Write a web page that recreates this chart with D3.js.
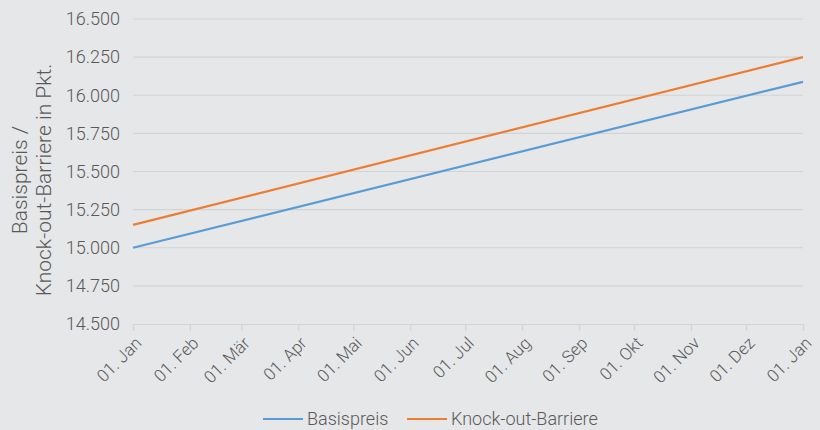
<!DOCTYPE html>
<html><head><meta charset="utf-8">
<script src="https://cdn.jsdelivr.net/npm/d3@7"></script>
<style>
html,body{margin:0;padding:0;background:#e6e7e8;}
svg{display:block;font-family:Roboto,"Liberation Sans",sans-serif;font-weight:300;}
</style></head><body>
<svg id="c" width="820" height="430"></svg>
<script>
const dates = ["2023-01-01","2024-01-01"];
const basispreis = [15000, 16088];
const knockout = [15150, 16250];
const yTicks = [14500,14750,15000,15250,15500,15750,16000,16250,16500];
const monthLabels = ["Jan","Feb","Mär","Apr","Mai","Jun","Jul","Aug","Sep","Okt","Nov","Dez","Jan"];
const seriesNames = ["Basispreis","Knock-out-Barriere"];
const colors = ["#5b9bd5","#ed7d31"];

(function(){
const svg = d3.select("#c");
const parse = d3.timeParse("%Y-%m-%d");
const mLeft=133, mRight=803, mTop=19, mBottom=324;
const x = d3.scaleTime().domain([parse(dates[0]), parse(dates[1])]).range([mLeft,mRight]);
const y = d3.scaleLinear().domain([14500,16500]).range([mBottom,mTop]);
const fmtY = v => { const s = String(v); return s.slice(0,2)+"."+s.slice(2); };

svg.append("rect").attr("width",820).attr("height",430).attr("fill","#e6e7e8");

// grid
svg.append("g").selectAll("line").data(yTicks.slice(1)).join("line")
  .attr("x1",mLeft).attr("x2",mRight).attr("y1",d=>y(d)).attr("y2",d=>y(d))
  .attr("stroke","#d2d3d5").attr("stroke-width",1.2);

// y labels
const yAxis = d3.axisLeft(y).tickValues(yTicks).tickFormat(fmtY).tickSize(0).tickPadding(13);
const gy = svg.append("g").attr("transform",`translate(${mLeft},0)`).call(yAxis);
gy.select(".domain").remove();
gy.selectAll("text").attr("fill","#595959").style("font-size","18px").style("font-family","Roboto").style("font-weight","300");

// x axis
const monthTicks = d3.timeMonth.range(parse(dates[0]), d3.timeDay.offset(parse(dates[1]),1));
const xAxis = d3.axisBottom(x).tickValues(monthTicks).tickSize(7)
  .tickFormat((d,i)=>"01. "+monthLabels[i]);
const gx = svg.append("g").attr("transform",`translate(0,${mBottom})`).call(xAxis);
gx.select(".domain").attr("stroke","#d2d3d5").attr("stroke-width",1.2);
gx.selectAll(".tick line").attr("stroke","#d2d3d5").attr("stroke-width",1.2);
gx.selectAll("text").attr("fill","#595959").style("font-size","17px").style("font-family","Roboto").style("font-weight","300")
  .attr("text-anchor","end").attr("y",0).attr("dy","0.35em")
  .attr("transform","translate(5,16) rotate(-45)");

// lines
const line = d3.line().x(d=>x(d.date)).y(d=>y(d.v));
[basispreis, knockout].forEach((arr,k)=>{
  const data = arr.map((v,i)=>({date:parse(dates[i]), v}));
  svg.append("path").datum(data).attr("d",line).attr("fill","none")
    .attr("stroke",colors[k]).attr("stroke-width",2.2);
});

// y title
const yt = svg.append("text").attr("transform","translate(27,180) rotate(-90)")
  .attr("text-anchor","middle").attr("fill","#595959").style("font-size","21px");
yt.append("tspan").attr("x",0).attr("dy","0").text("Basispreis /");
yt.append("tspan").attr("x",0).attr("dy","24").text("Knock-out-Barriere in Pkt.");

// legend
const legX = [263, 407];
seriesNames.forEach((n,k)=>{
  const g = svg.append("g").attr("transform",`translate(${legX[k]},419)`);
  g.append("line").attr("x1",0).attr("x2",40).attr("stroke",colors[k]).attr("stroke-width",2.2);
  g.append("text").attr("x",44).attr("dy","0.35em").attr("fill","#595959").style("font-size","18px").text(n);
});
})();
</script>
</body></html>
